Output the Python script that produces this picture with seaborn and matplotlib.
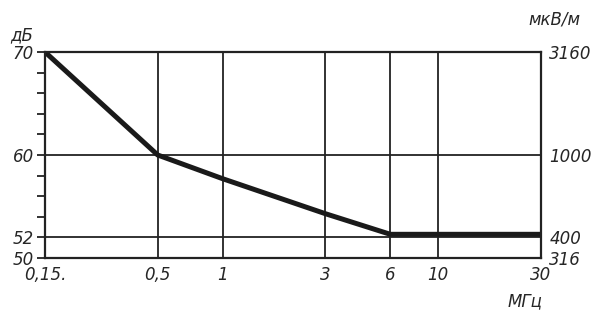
import matplotlib
matplotlib.use("Agg")
import matplotlib.pyplot as plt
import seaborn as sns
import pandas as pd

# data
freq_mhz = [0.15, 0.5, 1, 3, 6, 10, 30]
level_db = [70, 60, 57.7, 54.3, 52.3, 52.3, 52.3]
x_ticks = [0.15, 0.5, 1, 3, 6, 10, 30]
x_tick_labels = ["0,15.", "0,5", "1", "3", "6", "10", "30"]
left_ticks = [50, 52, 60, 70]
left_tick_labels = ["50", "52", "60", "70"]
left_minor = [54, 56, 58, 62, 64, 66, 68]
right_tick_labels = ["316", "400", "1000", "3160"]
v_grid = [0.5, 1, 3, 6, 10]
h_grid = [52, 60]

sns.set_style("white")
plt.rcParams['font.family'] = ['DejaVu Sans']
fs = dict(fontsize=12, fontstyle='italic')

fig = plt.figure(figsize=(6.12, 3.17), dpi=100)
ax = fig.add_axes([45/612, 1-258/317, (541-45)/612, (258-52)/317])
df = pd.DataFrame({"f": freq_mhz, "db": level_db})
sns.lineplot(data=df, x="f", y="db", ax=ax, color="#1a1a1a", linewidth=3.6, legend=False)
ax.set_xscale("log")
ax.set_xlim(0.15, 30)
ax.set_ylim(50, 70)
for v in v_grid:
    ax.axvline(v, color="#222222", lw=1.3, zorder=1)
for h in h_grid:
    ax.axhline(h, color="#222222", lw=1.3, zorder=1)
for s in ax.spines.values():
    s.set_color("#222222"); s.set_linewidth(1.6)
ax.set_xticks(x_ticks)
ax.set_xticklabels(x_tick_labels, **fs)
ax.minorticks_off()
ax.set_yticks(left_ticks + left_minor)
ax.set_yticklabels(left_tick_labels + [""] * len(left_minor), **fs)
ax.tick_params(axis='y', direction='out', length=6, width=1.3, color="#222222", left=True, pad=2)
ax.tick_params(axis='x', length=0, pad=6)
ax.set_xlabel(""); ax.set_ylabel("")

ax2 = ax.twinx()
ax2.set_ylim(50, 70)
ax2.set_yticks(left_ticks)
ax2.set_yticklabels(right_tick_labels, **fs)
ax2.tick_params(axis='y', length=0, pad=6)
for s in ax2.spines.values():
    s.set_visible(False)

fig.text(10/612, 1-40/317, "дБ", **fs)
fig.text(528/612, 1-24/317, "мкВ/м", **fs)
fig.text(508/612, 1-306/317, "МГц", **fs)

fig.savefig("out.png", dpi=100, facecolor="white")
